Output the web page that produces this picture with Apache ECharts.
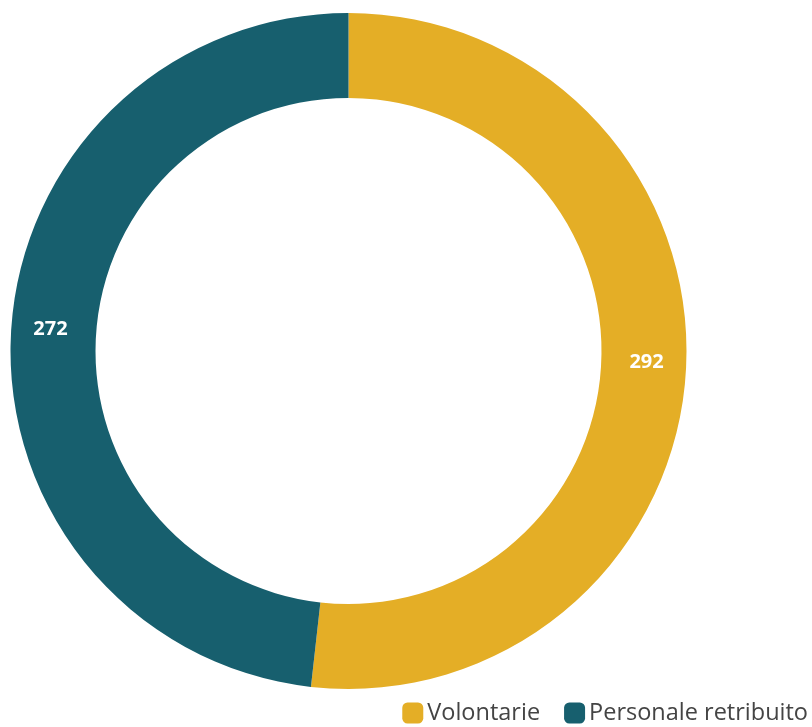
<!DOCTYPE html>
<html>
<head>
<meta charset="utf-8">
<script src="https://cdn.jsdelivr.net/npm/echarts@6/dist/echarts.min.js"></script>
<style>
  html, body { margin: 0; padding: 0; background: #ffffff; }
  #chart { width: 812px; height: 727px; }
</style>
</head>
<body>
<div id="chart"></div>
<script>
// Ripartizione del personale
const categories = ['Volontarie', 'Personale retribuito'];
const values = [292, 272];
const colors = ['#E4AE26', '#175F6E'];

const chart = echarts.init(document.getElementById('chart'), null, { renderer: 'canvas' });

chart.setOption({
  animation: false,
  color: colors,
  legend: {
    data: categories,
    right: 4,
    bottom: 2,
    padding: 0,
    icon: 'roundRect',
    itemWidth: 21,
    itemHeight: 21,
    itemGap: 24,
    textStyle: {
      fontFamily: '"Open Sans", "Noto Sans", sans-serif',
      fontSize: 23.5,
      color: '#444444',
      padding: [0, 0, 0, -1]
    }
  },
  series: [{
    type: 'pie',
    center: [348.5, 351],
    radius: [253, 338],
    startAngle: 90,
    clockwise: true,
    avoidLabelOverlap: false,
    label: {
      show: true,
      position: 'inside',
      formatter: '{c}',
      color: '#ffffff',
      fontWeight: 'bold',
      fontSize: 20,
      fontFamily: '"Open Sans", "Noto Sans", sans-serif',
      offset: [0, -5]
    },
    labelLine: { show: false },
    itemStyle: { borderWidth: 0 },
    emphasis: { disabled: true },
    data: categories.map((name, i) => ({ name, value: values[i] }))
  }]
});
</script>
</body>
</html>
